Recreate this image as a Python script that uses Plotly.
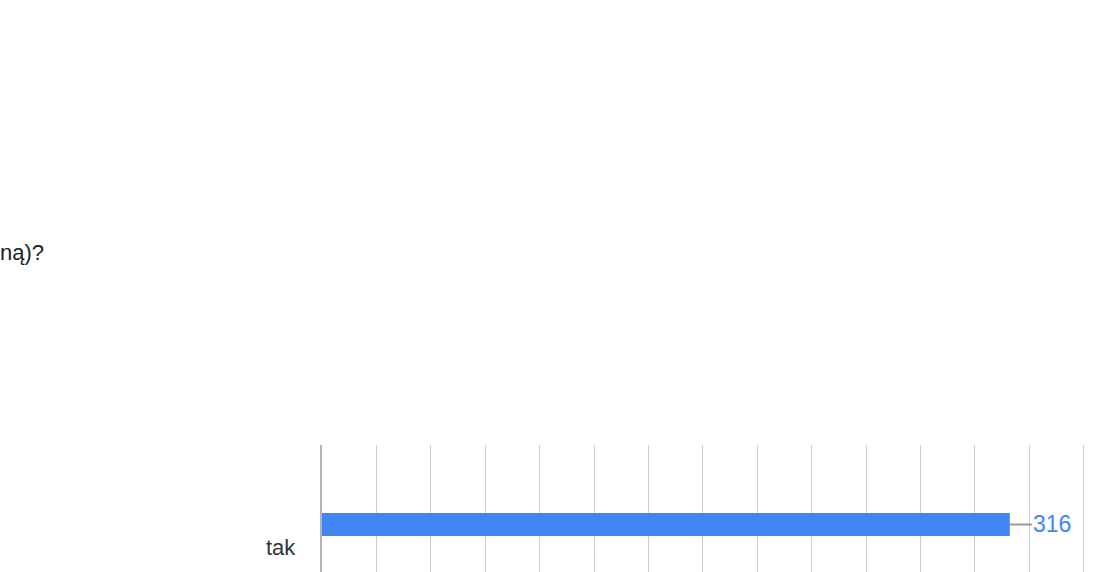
import plotly.graph_objects as go

# Data
categories = ["tak"]
values = [316]
title_text = "ną)?"
x_max = 351
x_dtick = 25

BLUE = "#4285f4"
FONT = "Liberation Sans, Arial, sans-serif"

fig = go.Figure()
fig.add_trace(go.Bar(
    x=values, y=categories, orientation="h",
    marker=dict(color=BLUE, line=dict(width=0)),
    width=0.3, hoverinfo="skip",
))

# category labels (sit below the bar, to the left of the axis)
for c in categories:
    fig.add_annotation(x=0, xref="paper", y=c, yref="y", text=c,
                       showarrow=False, xanchor="right", yanchor="middle",
                       xshift=-24, yshift=-23,
                       font=dict(family=FONT, size=22, color="#333333"))

# value labels with connector
for c, v in zip(categories, values):
    fig.add_shape(type="line", xref="x", yref="y", xsizemode="pixel",
                  xanchor=v, x0=0, x1=22, y0=c, y1=c,
                  line=dict(color="#999999", width=2), layer="above")
    fig.add_annotation(x=v, y=c, xref="x", yref="y", text=str(v),
                       showarrow=False, xanchor="left", yanchor="middle",
                       xshift=21, yshift=0,
                       font=dict(family=FONT, size=23, color=BLUE))

fig.update_layout(
    width=1099, height=572,
    margin=dict(l=322, r=13, t=445, b=0),
    paper_bgcolor="white", plot_bgcolor="white",
    showlegend=False,
    title=dict(text=title_text, x=0, xref="container", xanchor="left",
               y=1 - 252 / 572, yref="container", yanchor="middle",
               pad=dict(l=0, r=0, t=0, b=0),
               font=dict(family=FONT, size=22, color="#202124")),
    xaxis=dict(range=[0, x_max], dtick=x_dtick, tick0=0, showgrid=True,
               gridcolor="#cccccc", gridwidth=1, zeroline=False,
               showticklabels=False, ticks="", showline=False, fixedrange=True),
    yaxis=dict(range=[-0.62, 1.037], showticklabels=False, ticks="",
               showgrid=False, zeroline=False, showline=True,
               linecolor="#b3b3b3", linewidth=2, fixedrange=True),
)

fig.write_html("out.html", config=dict(displayModeBar=False),
               post_script="document.body.style.margin='0';document.body.style.overflow='hidden';")
